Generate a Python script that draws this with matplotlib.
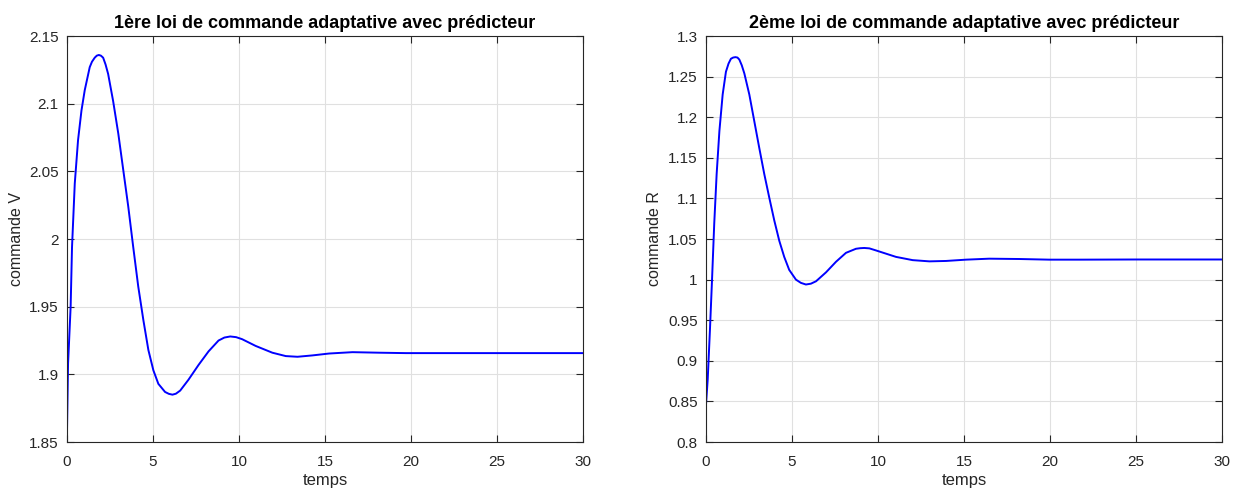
import matplotlib.pyplot as plt

plt.rcParams['font.family'] = ['Liberation Sans', 'DejaVu Sans']

# 1ere loi : commande V
t_v = [0, 0.06, 0.21, 0.29, 0.45, 0.64, 0.84, 1.03, 1.32, 1.45, 1.61, 1.73, 1.85,
       1.97, 2.10, 2.24, 2.39, 2.68, 2.98, 3.27, 3.56, 3.85, 4.14, 4.44, 4.73,
       5.02, 5.31, 5.70, 5.92, 6.13, 6.33, 6.58, 7.06, 7.65, 8.23, 8.81, 9.15,
       9.49, 9.83, 10.18, 10.97, 11.94, 12.72, 13.4, 14.27, 15.24, 16.6, 18.16,
       19.7, 21.65, 25, 30]
v = [1.860, 1.908, 1.950, 1.994, 2.041, 2.073, 2.095, 2.110, 2.127, 2.131, 2.134,
     2.1355, 2.136, 2.1355, 2.134, 2.129, 2.122, 2.102, 2.078, 2.051, 2.024,
     1.994, 1.965, 1.940, 1.918, 1.903, 1.893, 1.887, 1.8856, 1.885, 1.8857,
     1.888, 1.896, 1.907, 1.917, 1.925, 1.9272, 1.928, 1.9275, 1.926, 1.921,
     1.916, 1.9135, 1.913, 1.914, 1.9154, 1.9164, 1.916, 1.9157, 1.9157,
     1.9157, 1.9157]

# 2eme loi : commande R
t_r = [0, 0.1, 0.23, 0.35, 0.48, 0.62, 0.78, 0.97, 1.16, 1.31, 1.45, 1.58, 1.71,
       1.83, 1.94, 2.08, 2.23, 2.52, 2.81, 3.1, 3.39, 3.68, 3.97, 4.26, 4.55,
       4.84, 5.23, 5.52, 5.81, 6.1, 6.4, 6.98, 7.56, 8.14, 8.72, 8.96, 9.2, 9.5,
       9.88, 11.05, 12.02, 12.99, 13.96, 15.12, 16.47, 18.22, 19.96, 21.7, 25, 30]
r = [0.846, 0.877, 0.938, 0.999, 1.069, 1.130, 1.183, 1.228, 1.256, 1.266, 1.272,
     1.2735, 1.274, 1.2735, 1.271, 1.264, 1.254, 1.228, 1.195, 1.162, 1.130,
     1.101, 1.073, 1.048, 1.028, 1.012, 1.000, 0.996, 0.994, 0.995, 0.998,
     1.009, 1.022, 1.033, 1.038, 1.0387, 1.039, 1.0385, 1.036, 1.028, 1.024,
     1.0225, 1.023, 1.0246, 1.0258, 1.0254, 1.0246, 1.0246, 1.0248, 1.0248]

titles = ['1ère loi de commande adaptative avec prédicteur',
          '2ème loi de commande adaptative avec prédicteur']
ylabels = ['commande V', 'commande R']
ylims = [(1.85, 2.15), (0.8, 1.3)]
yticks = [[1.85, 1.9, 1.95, 2, 2.05, 2.1, 2.15],
          [0.8, 0.85, 0.9, 0.95, 1, 1.05, 1.1, 1.15, 1.2, 1.25, 1.3]]

fig = plt.figure(figsize=(12.39, 4.93), dpi=100)
ax1 = fig.add_axes([0.0541, 0.1034, 0.4164, 0.8235])
ax2 = fig.add_axes([0.5698, 0.1034, 0.4164, 0.8235])

for ax, tt, yy, title, ylab, lim, ticks in zip(
        [ax1, ax2], [t_v, t_r], [v, r], titles, ylabels, ylims, yticks):
    ax.plot(tt, yy, color='#0000ff', lw=1.4)
    ax.set_xlim(0, 30)
    ax.set_ylim(*lim)
    ax.set_xticks(range(0, 31, 5))
    ax.set_yticks(ticks)
    ax.set_yticklabels(['%g' % k for k in ticks])
    ax.grid(True, color='#e0e0e0', lw=0.8)
    ax.set_axisbelow(True)
    ax.tick_params(direction='in', top=True, right=True, labelsize=11,
                   colors='#262626', length=5, width=0.8)
    ax.tick_params(axis='x', pad=9)
    ax.tick_params(axis='y', pad=6)
    for s in ax.spines.values():
        s.set_color('#262626')
        s.set_linewidth(0.8)
    ax.set_title(title, fontsize=13, fontweight='bold', color='black', pad=6)
    ax.set_xlabel('temps', fontsize=12, color='#262626', labelpad=3)
    ax.set_ylabel(ylab, fontsize=11.5, color='#262626')

plt.savefig('out.png', dpi=100)
